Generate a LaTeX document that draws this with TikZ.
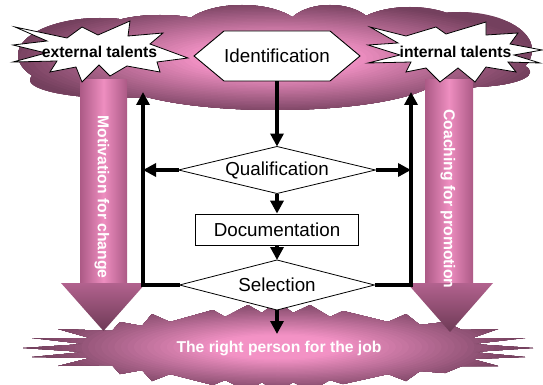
\documentclass[tikz,border=0pt]{standalone}
\usepackage{fontspec}
\setmainfont{Liberation Sans}
\usetikzlibrary{arrows.meta,shapes.geometric}

\definecolor{glowpink}{RGB}{243,146,197}
\definecolor{glowdark}{RGB}{116,64,94}
\definecolor{shaftedge}{RGB}{172,90,134}
\definecolor{shaftmid}{RGB}{238,142,192}
\definecolor{headtop}{RGB}{178,98,142}
\definecolor{headtip}{RGB}{110,58,86}

\begin{document}
\begin{tikzpicture}[x=1pt,y=-1pt,
  flowfont/.style={font=\fontsize{18.8pt}{22pt}\selectfont},
  labelfont/.style={font=\bfseries\fontsize{15.7pt}{18pt}\selectfont},
  thickarrow/.style={line width=3.3pt,-{Triangle[length=13pt,width=13pt]}},
  decision/.style={diamond, draw, line width=0.8pt, fill=white, inner sep=0pt,
    outer sep=0pt, aspect=4.2, flowfont},
  jag/.style={draw=black, line width=0.8pt, fill=white, line join=miter},
  shaft/.style={left color=shaftedge, right color=shaftedge, middle color=shaftmid},
  arrowhead/.style={top color=headtop, bottom color=headtip},
]
\useasboundingbox (0,0) rectangle (543,385);
\clip (0,0) rectangle (543,385);

% cloud behind the talent pools: stepped elliptic glow inside the outline
\begin{scope}
  \clip
    (100,55) ellipse [x radius=82, y radius=37]
    (115,80) ellipse [x radius=85, y radius=18]
    (160,33) ellipse [x radius=60, y radius=18]
    (242,32) ellipse [x radius=60, y radius=27]
    (330,32) ellipse [x radius=45, y radius=27]
    (410,35) ellipse [x radius=60, y radius=28]
    (460,50) ellipse [x radius=72, y radius=38]
    (470,72) ellipse [x radius=60, y radius=15]
    (275,75) ellipse [x radius=165, y radius=35];
  \fill[glowdark] (0,0) rectangle (543,130);
  \foreach \k in {0,...,44} {
    \pgfmathsetmacro\r{1.1-\k/40}
    \pgfmathtruncatemacro\p{max(0,min(100,100*(1.02-\r)/0.72))}
    \fill[glowpink!\p!glowdark] (275,58) ellipse [x radius=\r*262, y radius=\r*56];
  }
\end{scope}

% burst at the bottom
\begin{scope}
  \clip
    (23,348) -- (85,344) -- (32,338) -- (90,338) -- (58,329) -- (112,331) --
    (120,322) -- (142,326) -- (152,314) -- (170,322) -- (213,310) -- (225,317) --
    (248,305) -- (262,313) -- (277,301) -- (293,313) -- (310,305) -- (330,317) --
    (343,311) -- (388,322) -- (406,314) -- (420,325) -- (445,322) -- (462,330) --
    (498,329) -- (472,338) -- (525,338) -- (472,344) -- (533,348) -- (472,352) --
    (525,357) -- (472,359) -- (498,366) -- (462,366) -- (445,373) -- (420,371) --
    (406,381) -- (388,374) -- (343,384) -- (330,380) -- (310,391) -- (293,382) --
    (277,393) -- (262,382) -- (248,391) -- (225,380) -- (213,385) -- (170,374) --
    (152,381) -- (142,370) -- (120,374) -- (112,365) -- (58,366) -- (90,358) --
    (32,357) -- (85,352) -- cycle;
  \fill[glowdark] (0,290) rectangle (543,400);
  \foreach \k in {0,...,44} {
    \pgfmathsetmacro\r{1.1-\k/40}
    \pgfmathtruncatemacro\p{max(0,min(100,100*(0.95-\r)/0.7))}
    \fill[glowpink!\p!glowdark] (278,347) ellipse [x radius=\r*262, y radius=\r*50];
  }
\end{scope}

% broad side arrows
\path[shaft] (80,80) rectangle (127,284);
\path[arrowhead] (61,283) -- (146,283) -- (103.5,331) -- cycle;
\path[shaft] (425,80) rectangle (473,284);
\path[arrowhead] (407,283) -- (493,283) -- (450,332) -- cycle;

% talent pools
\draw[jag] (15,27) -- (67,38) -- (82,27) -- (98,35) -- (130,21) -- (128,36) --
  (163,33) -- (150,44) -- (188,58) -- (157,62) -- (160,72) -- (127,66) --
  (110,76) -- (99,65) -- (82,82) -- (76,67) -- (50,72) -- (57,61) -- (13,62) --
  (46,53) -- (13,45) -- (47,41) -- cycle;
\node[labelfont] (ext) at (99.5,52) {external talents};
\draw[jag] (370,27) -- (406,36) -- (436,27) -- (446,34) -- (486,22) -- (486,35) --
  (518,33) -- (510,44) -- (542,50) -- (514,55) -- (540,63) -- (508,62) --
  (516,72) -- (486,67) -- (475,82) -- (458,68) -- (440,82) -- (426,68) --
  (406,72) -- (411,62) -- (368,63) -- (400,55) -- (368,45) -- (398,43) -- cycle;
\node[labelfont] (int) at (455.5,52) {internal talents};

% process steps
\draw[line width=0.9pt, fill=white] (194,56) -- (224,31) -- (330,31) -- (360,56) --
  (330,81) -- (224,81) -- cycle;
\node[flowfont, minimum width=166pt, minimum height=50pt, inner sep=0pt] (ident)
  at (277,56) {Identification};
\node[decision, minimum width=197pt, minimum height=47pt] (qual) at (277,170) {Qualification};
\node[draw, line width=0.8pt, fill=white, flowfont, minimum width=163pt,
  minimum height=31pt, inner sep=0pt] (doc) at (277,229.5) {Documentation};
\node[decision, minimum width=195pt, minimum height=50pt] (sel) at (277,285) {Selection};

\coordinate (ltop) at (143,92);
\coordinate (lmid) at (143,170);
\coordinate (lbot) at (143,285);
\coordinate (rtop) at (411,92);
\coordinate (rmid) at (411,170);
\coordinate (rbot) at (411,285);
\coordinate (goaltop) at (277,334);

\draw[thickarrow] (ident.south) -- (qual.north);
\draw[thickarrow] (qual.south) -- (doc.north);
\draw[thickarrow] (doc.south) -- (sel.north);
\draw[thickarrow] (sel.south) -- (goaltop);
\draw[thickarrow] (qual.west) -- (lmid);
\draw[thickarrow] (qual.east) -- (rmid);
\draw[thickarrow, line join=miter] (sel.west) -- (lbot) -- (ltop);
\draw[thickarrow, line join=miter] (sel.east) -- (rbot) -- (rtop);

% captions on the shapes
\node[labelfont, text=white, rotate=-90] (motiv) at (102,197) {Motivation for change};
\node[labelfont, text=white, rotate=-90] (coach) at (448,199) {Coaching for promotion};
\node[labelfont, text=white] (goal) at (279,348) {The right person for the job};
\end{tikzpicture}
\end{document}
